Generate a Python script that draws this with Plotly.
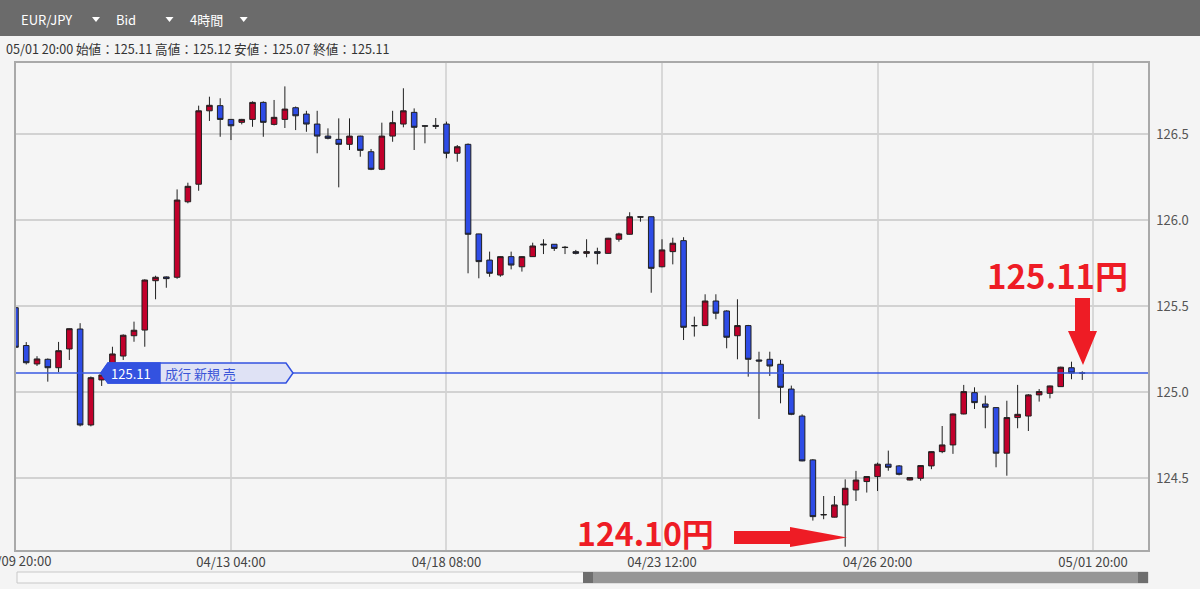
import plotly.graph_objects as go

# ---------------- data (EUR/JPY, 4h bars, Bid) ----------------
bar_index = list(range(100))
opens = [125.49, 125.27, 125.163, 125.190, 125.141, 125.25, 125.366, 124.808, 125.07, 125.11,
         125.209, 125.327, 125.36, 125.647, 125.669, 125.667, 126.106, 126.208, 126.635, 126.665,
         126.585, 126.568, 126.585, 126.684, 126.556, 126.585, 126.653, 126.616, 126.558, 126.488,
         126.469, 126.44, 126.488, 126.397, 126.295, 126.488, 126.558, 126.626, 126.548, 126.55,
         126.558, 126.388, 126.44, 125.919, 125.767, 125.68, 125.787, 125.728, 125.787, 125.86,
         125.859, 125.842, 125.816, 125.806, 125.816, 125.806, 125.888, 125.917, 126.019, 126.019,
         125.728, 125.816, 125.88, 125.386, 125.386, 125.529, 125.471, 125.327, 125.386, 125.186,
         125.19, 125.161, 125.017, 124.86, 124.605, 124.285, 124.272, 124.343, 124.43, 124.479,
         124.508, 124.58, 124.57, 124.488, 124.498, 124.57, 124.653, 124.692, 124.872, 124.996,
         124.93, 124.909, 124.644, 124.851, 124.86, 124.983, 124.992, 125.031, 125.141, 125.11]
highs = [125.50, 125.29, 125.208, 125.195, 125.291, 125.37, 125.40, 125.09, 125.10, 125.263,
         125.335, 125.409, 125.655, 125.676, 125.672, 126.178, 126.217, 126.665, 126.717, 126.708,
         126.586, 126.588, 126.69, 126.69, 126.698, 126.777, 126.66, 126.635, 126.635, 126.533,
         126.591, 126.591, 126.49, 126.413, 126.566, 126.635, 126.766, 126.649, 126.55, 126.593,
         126.572, 126.436, 126.445, 125.92, 125.816, 125.79, 125.816, 125.79, 125.868, 125.888,
         125.86, 125.849, 125.826, 125.888, 125.839, 125.896, 125.926, 126.045, 126.02, 126.02,
         125.888, 125.897, 125.90, 125.438, 125.568, 125.568, 125.475, 125.539, 125.39, 125.234,
         125.234, 125.186, 125.037, 124.87, 124.61, 124.395, 124.395, 124.492, 124.541, 124.51,
         124.589, 124.659, 124.575, 124.503, 124.575, 124.655, 124.802, 124.875, 125.041, 125.027,
         124.979, 124.91, 124.949, 125.041, 124.988, 125.017, 125.037, 125.147, 125.176, 125.12]
lows = [125.25, 125.16, 125.151, 125.06, 125.115, 125.186, 124.80, 124.80, 125.035, 125.09,
        125.186, 125.292, 125.263, 125.539, 125.606, 125.658, 126.097, 126.17, 126.576, 126.484,
        126.465, 126.556, 126.542, 126.484, 126.55, 126.535, 126.523, 126.513, 126.388, 126.469,
        126.19, 126.407, 126.368, 126.29, 126.29, 126.455, 126.539, 126.407, 126.446, 126.529,
        126.359, 126.339, 125.69, 125.661, 125.67, 125.67, 125.713, 125.70, 125.785, 125.802,
        125.82, 125.802, 125.80, 125.783, 125.742, 125.804, 125.874, 125.915, 125.99, 125.577,
        125.725, 125.742, 125.302, 125.322, 125.385, 125.423, 125.254, 125.19, 125.089, 124.843,
        125.093, 124.934, 124.865, 124.597, 124.252, 124.26, 124.27, 124.10, 124.366, 124.415,
        124.424, 124.542, 124.515, 124.486, 124.484, 124.551, 124.644, 124.64, 124.87, 124.901,
        124.789, 124.562, 124.513, 124.789, 124.773, 124.944, 124.963, 125.03, 125.074, 125.07]
closes = [125.26, 125.17, 125.192, 125.141, 125.24, 125.368, 124.808, 125.083, 125.099, 125.221,
          125.33, 125.359, 125.651, 125.667, 125.659, 126.116, 126.196, 126.635, 126.667, 126.585,
          126.548, 126.585, 126.684, 126.568, 126.597, 126.645, 126.606, 126.558, 126.488, 126.475,
          126.44, 126.488, 126.405, 126.295, 126.488, 126.566, 126.635, 126.539, 126.546, 126.545,
          126.388, 126.426, 125.917, 125.758, 125.69, 125.787, 125.738, 125.787, 125.849, 125.856,
          125.835, 125.84, 125.806, 125.816, 125.806, 125.894, 125.919, 126.019, 126.017, 125.719,
          125.826, 125.865, 125.376, 125.385, 125.529, 125.458, 125.318, 125.386, 125.19, 125.18,
          125.151, 125.027, 124.87, 124.599, 124.275, 124.287, 124.343, 124.44, 124.488, 124.508,
          124.58, 124.562, 124.521, 124.502, 124.572, 124.653, 124.692, 124.872, 125.002, 124.938,
          124.911, 124.644, 124.851, 124.87, 124.983, 125.002, 125.035, 125.144, 125.11, 125.11]

tick_positions = [0, 20, 40, 60, 80, 100]
tick_labels = ["04/09 20:00", "04/13 04:00", "04/18 08:00", "04/23 12:00", "04/26 20:00", "05/01 20:00"]
y_ticks = [124.5, 125.0, 125.5, 126.0, 126.5]
y_tick_labels = ["124.5", "125.0", "125.5", "126.0", "126.5"]
current_price = 125.11
low_price = 124.10
info_text = "05/01 20:00 始値：125.11 高値：125.12 安値：125.07 終値：125.11"

# ---------------- layout geometry (pixels) ----------------
W, H = 1200, 589
PL, PR, PT, PB = 16, 1148, 63, 550
Y_MIN, Y_MAX = 124.081, 126.913
X_MIN, X_MAX = 0.05, 105.1


def X(px):
    return (px - PL) / (PR - PL)


def Y(py):
    return (PB - py) / (PB - PT)


def path(points):
    return "M " + " L ".join(f"{X(a):.5f},{Y(b):.5f}" for a, b in points) + " Z"


FONT = "Noto Sans CJK JP, Noto Sans, sans-serif"
RED = "#ee1c25"

fig = go.Figure(go.Candlestick(
    x=bar_index, open=opens, high=highs, low=lows, close=closes,
    increasing=dict(fillcolor="#c1002b", line=dict(color="#202020", width=1)),
    decreasing=dict(fillcolor="#2e4ce6", line=dict(color="#202020", width=1)),
    whiskerwidth=0, hoverinfo="skip", showlegend=False,
))

shapes = []
# toolbar
shapes.append(dict(type="rect", xref="paper", yref="paper", x0=X(0), x1=X(W), y0=Y(0), y1=Y(36),
                   fillcolor="#6b6b6b", line=dict(width=0), layer="below"))
for cx in (96, 169.5, 243.7):
    shapes.append(dict(type="path", xref="paper", yref="paper",
                       path=path([(cx - 4, 17), (cx + 4, 17), (cx, 22)]),
                       fillcolor="white", line=dict(width=0)))
# current price line
shapes.append(dict(type="line", xref="paper", yref="y", x0=0, x1=1, y0=current_price, y1=current_price,
                   line=dict(color="#3858e2", width=1.5)))
# order label
lab_y = PB - (current_price - Y_MIN) / (Y_MAX - Y_MIN) * (PB - PT)
shapes.append(dict(type="path", xref="paper", yref="paper",
                   path=path([(101, lab_y), (108, lab_y - 10), (286, lab_y - 10), (293, lab_y),
                              (286, lab_y + 10), (108, lab_y + 10)]),
                   fillcolor="#dfe2f5", line=dict(color="#3352e0", width=1.5)))
shapes.append(dict(type="path", xref="paper", yref="paper",
                   path=path([(101, lab_y), (108, lab_y - 10), (160, lab_y - 10), (160, lab_y + 10),
                              (108, lab_y + 10)]),
                   fillcolor="#3352e0", line=dict(color="#3352e0", width=1.5)))
# red arrows
shapes.append(dict(type="path", xref="paper", yref="paper",
                   path=path([(1075, 298), (1090, 298), (1090, 331), (1097, 331), (1083, 365),
                              (1068, 331), (1075, 331)]),
                   fillcolor=RED, line=dict(width=0)))
shapes.append(dict(type="path", xref="paper", yref="paper",
                   path=path([(734, 531), (790, 531), (790, 527), (847, 537.5), (790, 547),
                              (790, 544), (734, 544)]),
                   fillcolor=RED, line=dict(width=0)))
# scrollbar
shapes.append(dict(type="rect", xref="paper", yref="paper", x0=X(17), x1=X(1148), y0=Y(583), y1=Y(572),
                   fillcolor="#f8f8f8", line=dict(color="#c8c8c8", width=1)))
shapes.append(dict(type="rect", xref="paper", yref="paper", x0=X(583), x1=X(1148), y0=Y(583), y1=Y(572),
                   fillcolor="#969696", line=dict(width=0)))
for a, b in ((583, 593), (1138, 1148)):
    shapes.append(dict(type="rect", xref="paper", yref="paper", x0=X(a), x1=X(b), y0=Y(583), y1=Y(572),
                       fillcolor="#6e6e6e", line=dict(width=0)))

annotations = []


def txt(text, px, py, size, color, anchor="left", **kw):
    annotations.append(dict(text=text, x=X(px), y=Y(py), xref="paper", yref="paper",
                            xanchor=anchor, yanchor="middle", showarrow=False,
                            font=dict(family=FONT, size=size, color=color), **kw))


txt("EUR/JPY", 19, 19, 13, "white")
txt("Bid", 114, 19, 13, "white")
txt("4時間", 188, 19, 13, "white")
txt(info_text, 4, 49, 12.6, "#333333")
txt("125.11", 131, lab_y, 13, "white", anchor="center")
txt("成行 新規 売", 200, lab_y, 13, "#3a55d8", anchor="center")
txt("<b>125.11円</b>", 1057, 275, 33, RED, anchor="center")
txt("<b>124.10円</b>", 645, 532, 32, RED, anchor="center", borderpad=0)
# first (partly cut) time label: its bar sits on the left edge of the plot
txt(tick_labels[0], PL, 560.5, 13, "#444444", anchor="center")

fig.update_layout(
    width=W, height=H,
    margin=dict(l=PL, r=W - PR, t=PT, b=H - PB, pad=0),
    paper_bgcolor="#f4f4f4", plot_bgcolor="#f5f5f5",
    font=dict(family=FONT, size=13, color="#444444"),
    shapes=shapes, annotations=annotations,
    boxgap=0.26,
    xaxis=dict(range=[X_MIN, X_MAX], tickmode="array", tickvals=tick_positions[1:], ticktext=tick_labels[1:],
               showgrid=True, gridcolor="#d8d8d8", gridwidth=1.5, zeroline=False,
               showline=True, mirror=True, linecolor="#a9a9a9", linewidth=1.5,
               ticks="", tickfont=dict(size=13, color="#444444"), rangeslider=dict(visible=False),
               fixedrange=True),
    yaxis=dict(range=[Y_MIN, Y_MAX], side="right", tickmode="array", tickvals=y_ticks,
               ticktext=y_tick_labels, showgrid=True, gridcolor="#d2d2d2", gridwidth=1.5,
               zeroline=False, showline=True, mirror=True, linecolor="#a9a9a9", linewidth=1.5,
               ticks="outside", ticklen=4, tickcolor="rgba(0,0,0,0)",
               tickfont=dict(size=13, color="#555555"), fixedrange=True),
)

fig.write_html("out.html", config=dict(displayModeBar=False),
               post_script="document.body.style.margin='0';document.body.style.overflow='hidden';")
